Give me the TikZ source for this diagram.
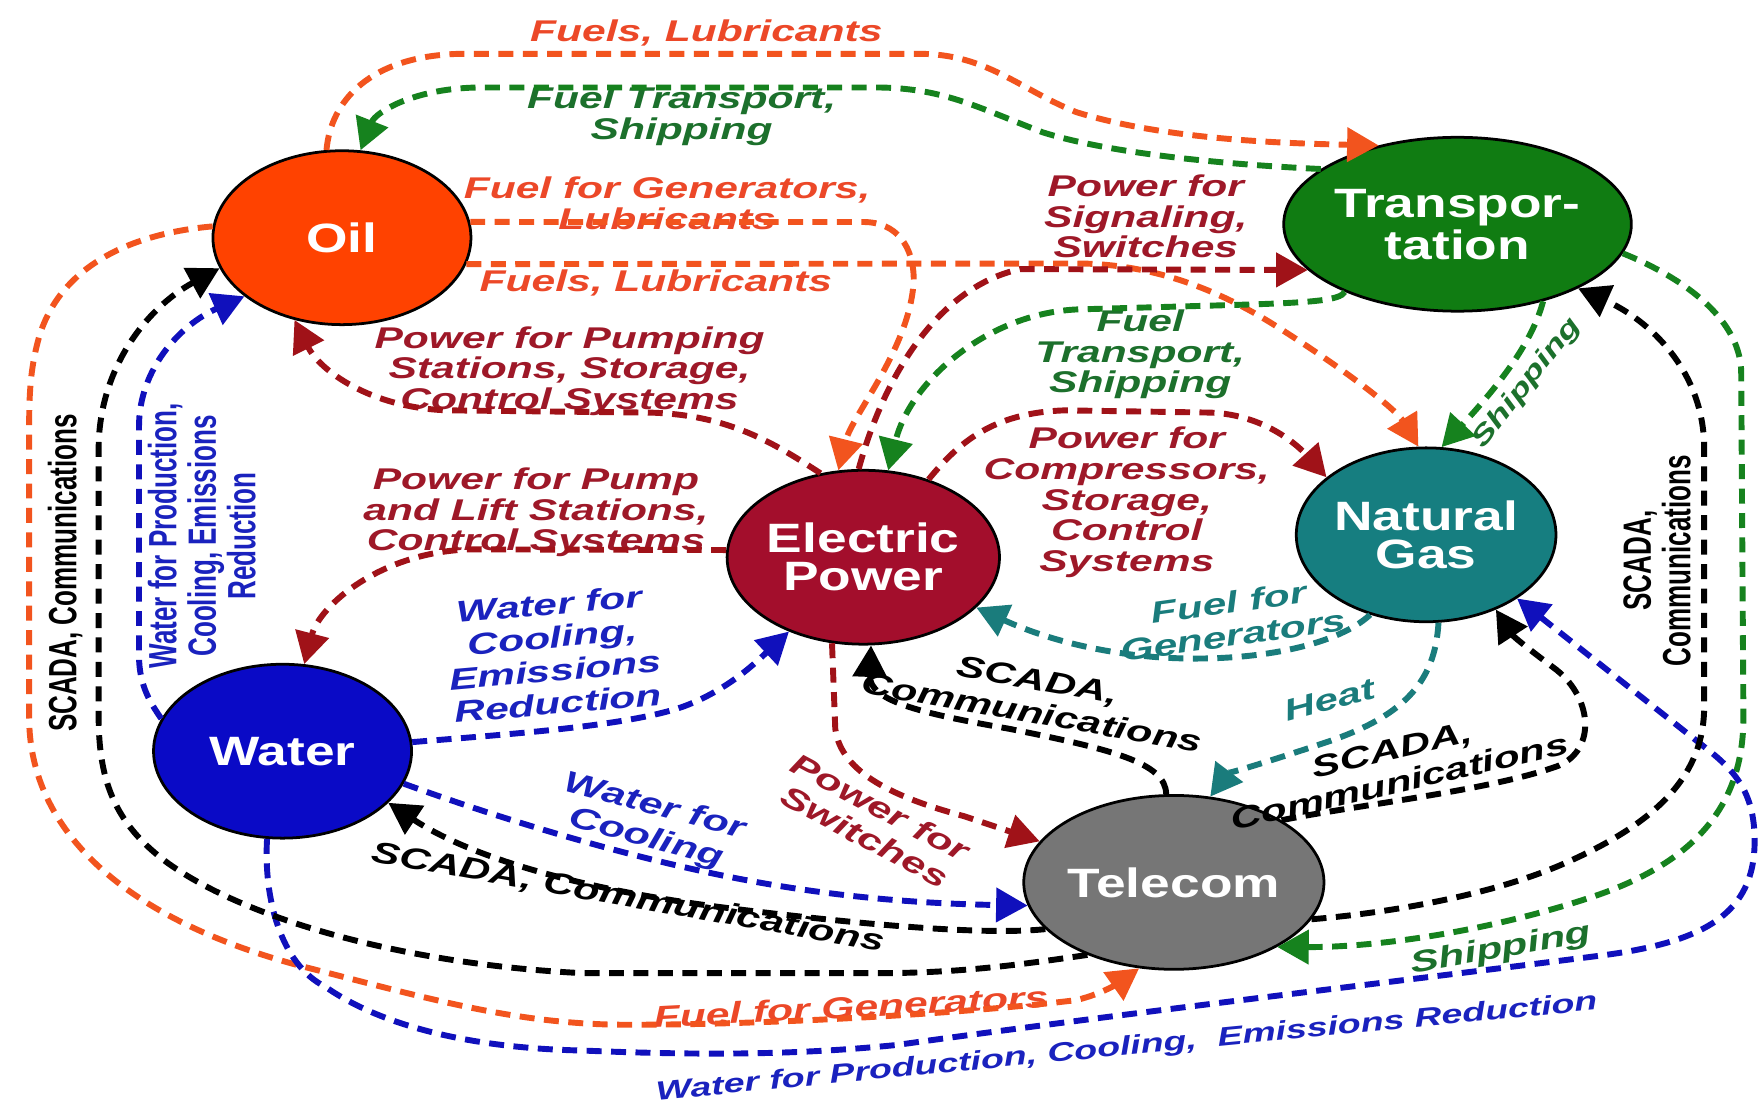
\documentclass[tikz,border=0pt]{standalone}
\usepackage{fontspec}
\usetikzlibrary{arrows.meta,shapes.geometric}
\newfontfamily\lblfont[FakeStretch=1.42]{Liberation Sans}
\newfontfamily\hubfont[FakeStretch=1.3]{Liberation Sans}
\newfontfamily\vlblfont[FakeStretch=0.66]{Liberation Sans}

\definecolor{oilfill}{RGB}{255,66,0}
\definecolor{oilline}{RGB}{242,84,30}
\definecolor{oiltext}{RGB}{236,72,40}
\definecolor{epfill}{RGB}{163,14,44}
\definecolor{epline}{RGB}{160,18,24}
\definecolor{eptext}{RGB}{158,24,40}
\definecolor{trfill}{RGB}{16,124,18}
\definecolor{trline}{RGB}{22,130,30}
\definecolor{trtext}{RGB}{28,112,44}
\definecolor{ngfill}{RGB}{22,126,128}
\definecolor{ngline}{RGB}{26,124,124}
\definecolor{wafill}{RGB}{10,10,198}
\definecolor{waline}{RGB}{16,16,188}
\definecolor{watext}{RGB}{26,34,190}
\definecolor{tefill}{RGB}{118,118,118}

\begin{document}
\begin{tikzpicture}[x=0.01cm,y=-0.01cm,
  hub/.style={ellipse, draw=black, line width=0.7pt, minimum width=2.3cm,
    minimum height=1.55cm, inner sep=0pt, text=white, align=center,
    font=\hubfont\bfseries\fontsize{10.4}{9.6}\selectfont},
  flow/.style={line width=1.5pt, dash pattern=on 3.8pt off 2.4pt,
    -{Triangle[length=8pt,width=8.5pt]}},
  lbl/.style={font=\lblfont\bfseries\itshape\fontsize{7.6}{7.8}\selectfont,
    align=center, inner sep=0pt},
  tilted/.style={lbl, font=\lblfont\bfseries\itshape\fontsize{7.6}{8.4}\selectfont},
  vlbl/.style={font=\vlblfont\bfseries\fontsize{10}{10}\selectfont,
    align=center, inner sep=0pt, rotate=90}]

\useasboundingbox (0,0) rectangle (1568,990);
\fill[white] (0,0) rectangle (1568,990);

% infrastructure sectors
\node[hub, fill=oilfill] (oil)   at (305,212)  {Oil};
\node[hub, fill=trfill]  (trans) at (1300,200) {Transpor-\\tation};
\node[hub, fill=epfill]  (ep)    at (770,497)  {Electric\\Power};
\node[hub, fill=ngfill]  (ng)    at (1272,477) {Natural\\Gas};
\node[hub, fill=wafill]  (water) at (252,670)  {Water};
\node[hub, fill=tefill]  (tel)   at (1047,787) {Telecom};

% flow labels
\node[lbl,text=oiltext] (tFuelsTop) at (630,29) {Fuels, Lubricants};
\node[lbl,text=trtext] (tFuelShipTop) at (608,104) {Fuel Transport,\\Shipping};
\node[lbl,text=oiltext] (tFuelGen) at (595,181) {Fuel for Generators,\\Lubricants};
\node[lbl,text=oiltext] (tFuelsMid) at (585,252) {Fuels, Lubricants};
\node[lbl,text=eptext] (tSignal) at (1022,193) {Power for\\Signaling,\\Switches};
\node[lbl,text=trtext] (tFuelShipMid) at (1017,316) {Fuel\\Transport,\\Shipping};
\node[lbl,text=eptext] (tPumping) at (508,331) {Power for Pumping\\Stations, Storage,\\Control Systems};
\node[lbl,text=eptext] (tCompr) at (1005,448) {Power for\\Compressors,\\Storage,\\Control\\Systems};
\node[lbl,text=eptext] (tPump) at (478,457) {Power for Pump\\and Lift Stations,\\Control Systems};
\node[tilted,text=watext,rotate=5] (tWaterEP) at (494,583) {Water for\\Cooling,\\Emissions\\Reduction};
\node[tilted,text=ngline,rotate=8] (tGasGen) at (1098,552) {Fuel for\\Generators};
\node[lbl,text=ngline,rotate=15] (tHeat) at (1186,624) {Heat};
\node[tilted,rotate=-10] (tScadaEP) at (923,621) {SCADA,\\Communications};
\node[tilted,text=eptext,rotate=-28] (tSwitch) at (778,733) {Power for\\Switches};
\node[tilted,rotate=13] (tScadaNG) at (1245,683) {SCADA,\\Communications};
\node[tilted,text=watext,rotate=-15] (tWaterTel) at (580,734) {Water for\\Cooling};
\node[lbl,rotate=-10] (tScadaWater) at (560,801) {SCADA, Communications};
\node[vlbl] (tScadaOil) at (58,511) {SCADA, Communications};
\node[vlbl,text=watext] (tWaterOil) at (180,478) {Water for Production,\\Cooling, Emissions\\Reduction};
\node[vlbl] (tScadaTr) at (1478,500) {SCADA,\\Communications};
\node[lbl,text=trtext,rotate=10] (tShipTel) at (1339,847) {Shipping};
\node[lbl,text=oiltext,rotate=3] (tFuelTel) at (759,898) {Fuel for Generators};
\node[lbl,text=watext,rotate=5.5,font=\lblfont\bfseries\itshape\fontsize{6.7}{7}\selectfont]
  (tWaterNG) at (1005,935) {Water for Production, Cooling,\ \ Emissions Reduction};
\node[lbl,text=trtext,rotate=52,font=\lblfont\bfseries\itshape\fontsize{6.6}{7}\selectfont]
  (tShipNG) at (1362,342) {Shipping};

% oil flows
\draw[flow,draw=oilline] (oil.100) .. controls (295,90) and (330,50) .. (410,48) -- (820,48)
  .. controls (880,48) and (910,80) .. (960,100) .. controls (1040,125) and (1150,128) .. (trans.135);
\draw[flow,draw=oilline] (oil.7) -- (770,198) .. controls (800,198) and (815,220) .. (815,250)
  .. controls (812,310) and (760,370) .. (ep.106);
\draw[flow,draw=oilline] (oil.-12) -- (960,235) .. controls (1030,235) and (1090,260) .. (1140,292)
  .. controls (1200,330) and (1245,365) .. (ng.95);
\draw[flow,draw=oilline] (oil.175) .. controls (120,208) and (55,235) .. (35,300)
  .. controls (28,325) and (26,345) .. (26,380) -- (26,640)
  .. controls (26,740) and (110,820) .. (270,862) .. controls (380,890) and (460,914) .. (560,914)
  .. controls (700,914) and (880,902) .. (960,892) .. controls (985,886) and (1000,875) .. (tel.-112);

% transportation flows
\draw[flow,draw=trline] (trans.158) .. controls (1120,148) and (1000,140) .. (930,118)
  .. controls (870,95) and (840,78) .. (780,78) -- (430,78) .. controls (370,78) and (335,100) .. (oil.78);
\draw[flow,draw=trline] (trans.211) .. controls (1195,268) and (1170,270) .. (1100,272) -- (960,276)
  .. controls (880,280) and (812,340) .. (ep.74);
\draw[flow,draw=trline] (trans.-42) .. controls (1368,300) and (1345,335) .. (ng.80);
\draw[flow,draw=trline] (trans.-10) .. controls (1470,235) and (1550,270) .. (1553,330) -- (1555,640)
  .. controls (1555,720) and (1510,770) .. (1420,800) .. controls (1330,830) and (1230,845) .. (tel.-32);

% electric power flows
\draw[flow,draw=epline] (ep.93) .. controls (790,330) and (840,255) .. (910,240) -- (trans.197);
\draw[flow,draw=epline] (ep.50) .. controls (855,395) and (885,368) .. (950,366) -- (1080,368)
  .. controls (1130,370) and (1160,400) .. (ng.150);
\draw[flow,draw=epline] (ep.117) .. controls (690,395) and (650,370) .. (580,368) -- (400,366)
  .. controls (330,364) and (285,330) .. (oil.240);
\draw[flow,draw=epline] (ep.177) -- (420,490) .. controls (340,492) and (285,540) .. (water.76);
\draw[flow,draw=epline] (ep.250) -- (745,650) .. controls (750,690) and (800,712) .. (860,728) -- (tel.163);

% natural gas flows
\draw[flow,draw=ngline] (ng.235) .. controls (1190,578) and (1110,592) .. (1030,586)
  .. controls (960,580) and (915,562) .. (ep.-24);
\draw[flow,draw=ngline] (ng.-82) .. controls (1280,610) and (1250,640) .. (1180,663)
  .. controls (1120,683) and (1095,690) .. (tel.67);

% water flows
\draw[flow,draw=waline] (water.4) .. controls (450,655) and (560,648) .. (610,630)
  .. controls (650,615) and (675,590) .. (ep.225);
\draw[flow,draw=waline] (water.-15) .. controls (440,728) and (550,762) .. (650,782)
  .. controls (740,800) and (820,806) .. (tel.189);
\draw[flow,draw=waline] (water.165) .. controls (135,628) and (124,612) .. (124,585) -- (124,380)
  .. controls (124,330) and (160,290) .. (oil.211);
\draw[flow,draw=waline] (water.-100) .. controls (235,800) and (250,860) .. (290,880)
  .. controls (340,915) and (420,935) .. (520,937) .. controls (640,942) and (720,940) .. (800,932)
  .. controls (1000,904) and (1250,875) .. (1430,852) .. controls (1520,840) and (1565,815) .. (1565,750)
  .. controls (1565,710) and (1550,690) .. (1525,670) -- (ng.-35);

% telecom flows
\draw[flow,draw=black] (tel.95) .. controls (1040,680) and (990,668) .. (900,650)
  .. controls (820,636) and (775,625) .. (ep.-85);
\draw[flow,draw=black] (tel.30) .. controls (1210,718) and (1330,705) .. (1390,683)
  .. controls (1425,668) and (1420,620) .. (1385,595) .. controls (1365,580) and (1350,568) .. (ng.-47);
\draw[flow,draw=black] (tel.200) .. controls (880,834) and (780,826) .. (650,810)
  .. controls (520,794) and (420,765) .. (water.-26);
\draw[flow,draw=black] (tel.220) .. controls (900,862) and (850,868) .. (780,868) -- (520,868)
  .. controls (360,860) and (220,820) .. (150,770) .. controls (105,737) and (88,700) .. (88,640)
  -- (88,400) .. controls (88,330) and (130,275) .. (oil.194);
\draw[flow,draw=black] (tel.-15) .. controls (1230,815) and (1330,800) .. (1400,768)
  .. controls (1480,732) and (1520,690) .. (1520,630) -- (1520,400)
  .. controls (1520,330) and (1470,285) .. (trans.-28);
\end{tikzpicture}
\end{document}
